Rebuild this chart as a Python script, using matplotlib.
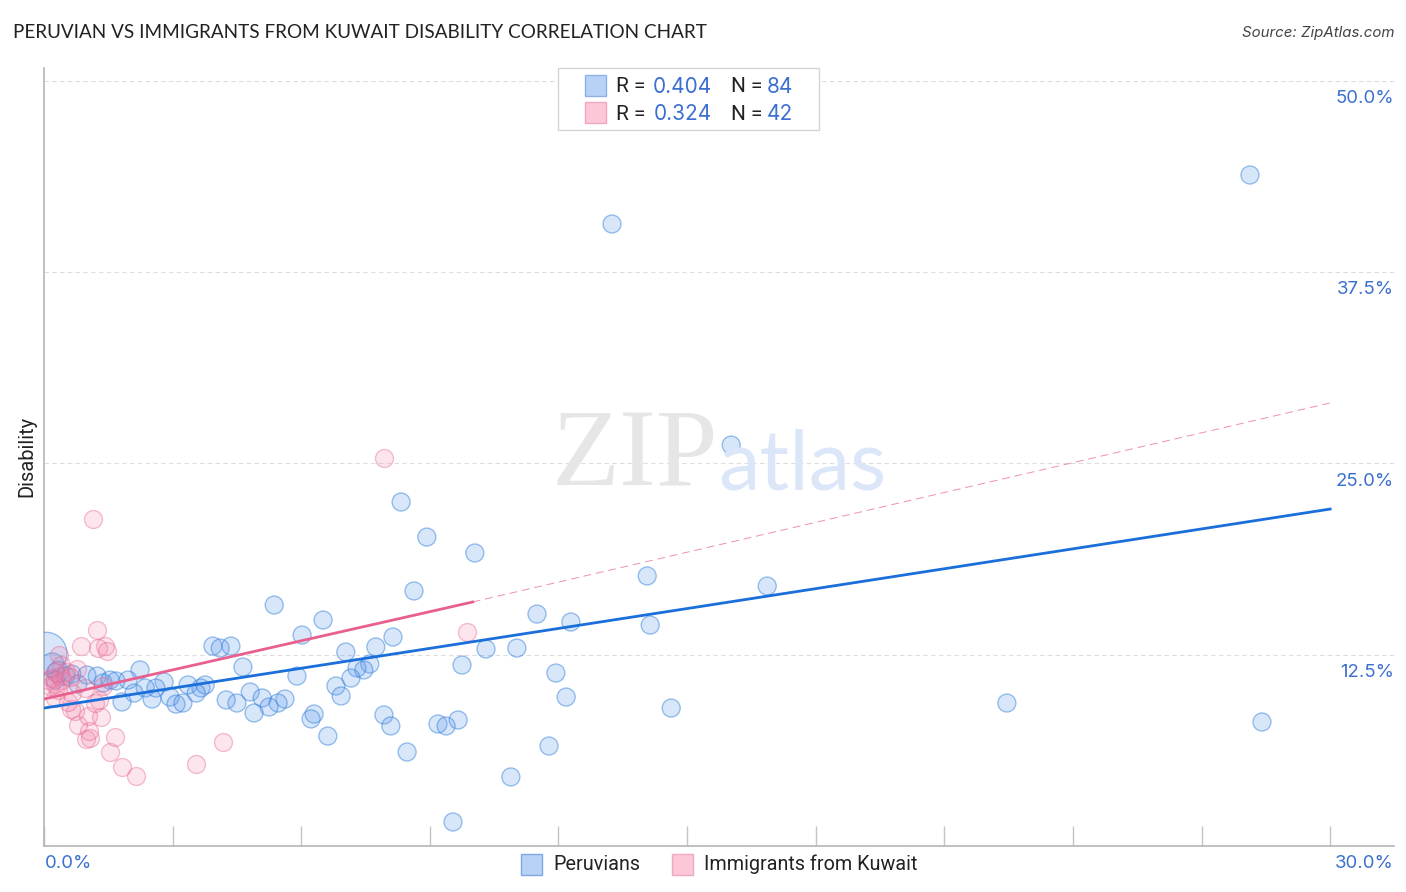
""" Plot disability correlation of Peruvians and immigrants from Kuwait. """
import matplotlib.pyplot as plt
from matplotlib.patches import Rectangle

plt.rcParams['font.family'] = ['Inter', 'Roboto', 'DejaVu Sans']

BLUE_X = [28.13, 13.25, 16.03, 8.33, 8.93, 10.05, 8.63, 14.07, 16.87, 5.37, 11.50, 6.51,
          12.29, 14.14, 6.02, 8.14, 3.94, 4.11, 4.36, 7.74, 7.04, 10.31, 11.03, 4.64,
          7.60, 7.30, 7.46, 9.75, 11.94, 5.90, 7.16, 2.24, 6.81, 6.93, 12.18, 14.63,
          22.46, 28.41, 7.93, 8.09, 9.19, 9.38, 9.66, 6.30, 6.23, 6.62, 8.47, 11.78,
          10.89, 9.54, 3.36, 3.76, 3.66, 3.55, 2.80, 2.61, 2.36, 2.10, 1.82, 2.52,
          2.94, 3.08, 3.24, 4.25, 4.50, 4.81, 5.09, 5.62, 5.46, 5.25, 4.90, 0.05,
          0.19, 0.33, 0.51, 0.65, 0.79, 1.00, 1.24, 1.38, 1.54, 1.68, 1.96, 0.26]
BLUE_Y = [43.83, 40.63, 26.19, 22.47, 20.18, 19.14, 16.66, 17.64, 16.98, 15.74, 15.15, 14.76,
          14.63, 14.43, 13.78, 13.65, 13.06, 12.93, 13.06, 13.00, 12.67, 12.87, 12.93, 11.69,
          11.89, 11.63, 11.50, 11.82, 11.30, 11.10, 10.97, 11.50, 10.45, 9.80, 9.73, 9.01,
          9.34, 8.10, 8.56, 7.84, 7.97, 7.84, 8.23, 8.62, 8.30, 7.18, 6.14, 6.53,
          4.51, 1.57, 10.52, 10.52, 10.32, 9.99, 10.71, 10.32, 10.32, 9.99, 9.41, 9.60,
          9.73, 9.27, 9.34, 9.54, 9.34, 10.06, 9.67, 9.60, 9.34, 9.08, 8.69, 12.60,
          11.82, 11.37, 11.10, 11.23, 10.58, 11.17, 11.10, 10.65, 10.84, 10.78, 10.84, 10.84]
BLUE_S = [168] * 71 + [900, 300, 230] + [168] * 10

PINK_X = [7.93, 1.14, 9.87, 1.24, 0.86, 1.42, 1.26, 1.47, 0.35, 0.77, 0.40, 0.26, 4.18, 3.55,
          2.15, 1.82, 1.54, 1.66, 0.98, 1.07, 1.05, 0.79, 1.33, 1.03, 0.72, 0.63, 1.19, 1.28,
          0.56, 0.26, 0.65, 1.38, 0.96, 0.33, 0.14, 0.42, 0.09, 0.19, 0.26, 0.37, 0.51, 0.61]
PINK_Y = [25.34, 21.36, 13.98, 14.11, 13.06, 13.06, 12.93, 12.74, 12.47, 11.56, 11.82, 11.37, 6.79, 5.36,
          4.57, 5.16, 6.14, 7.12, 6.99, 7.05, 7.51, 7.90, 8.43, 8.49, 8.82, 8.95, 9.34, 9.54,
          9.41, 9.67, 9.99, 10.45, 10.32, 10.19, 10.45, 10.84, 10.84, 10.97, 10.58, 11.10, 11.37, 11.04]

BLUE_LINE_X = [0, 30]
BLUE_LINE_Y = [9.01, 22.01]
PINK_LINE_X = [0, 10]
PINK_LINE_Y = [9.6, 15.94]
PINK_DASH_X = [10, 30]
PINK_DASH_Y = [15.94, 28.94]

X_TICKS = [0, 3, 6, 9, 12, 15, 18, 21, 24, 27, 30]
Y_TICKS = [12.5, 25.0, 37.5, 50.0]
Y_LABELS = ['12.5%', '25.0%', '37.5%', '50.0%']

WIDTH, HEIGHT = 1406, 892
BLUE = '#1a6fdb'
PINK = '#e8608f'
TEXT_BLUE = '#3b6fd0'
DARK = '#222222'


def fx(px):
    return px / WIDTH


def fy(py):
    return 1 - py / HEIGHT


def swatch(figure, x, y, size, face, edge):
    figure.add_artist(Rectangle((fx(x), fy(y + size)), size / WIDTH, size / HEIGHT, facecolor=face,
                                edgecolor=edge, linewidth=1, transform=figure.transFigure))


def plot_points(axes):
    axes.scatter(BLUE_X, BLUE_Y, s=BLUE_S, facecolor=(0.36, 0.6, 0.92, 0.24),
                 edgecolor=(0.2, 0.5, 0.85, 0.5), linewidth=0.95, zorder=3)  # Peruvians
    axes.scatter(PINK_X, PINK_Y, s=168, facecolor=(0.95, 0.5, 0.65, 0.2),
                 edgecolor=(0.9, 0.4, 0.58, 0.42), linewidth=0.95, zorder=3)  # Immigrants
    axes.plot(BLUE_LINE_X, BLUE_LINE_Y, color=BLUE, linewidth=2, zorder=4)
    axes.plot(PINK_LINE_X, PINK_LINE_Y, color=PINK, linewidth=2, zorder=4)
    axes.plot(PINK_DASH_X, PINK_DASH_Y, color=PINK, linewidth=0.7, linestyle=(0, (8, 5)), alpha=0.7, zorder=4)


def plot_frame(axes):
    axes.set_xlim(0, 31.49)
    axes.set_ylim(0, 50.82)
    axes.spines['top'].set_visible(False)
    axes.spines['right'].set_visible(False)
    axes.spines['left'].set_color('#b5b5b5')
    axes.spines['bottom'].set_color('#b5b5b5')
    axes.spines['left'].set_linewidth(1.2)
    axes.spines['bottom'].set_linewidth(1.2)
    axes.set_xticks(X_TICKS)
    axes.set_xticklabels([])
    axes.tick_params(axis='x', direction='in', length=14.4, width=1, color='#c4c4c4')
    axes.set_yticks(Y_TICKS)
    axes.set_yticklabels([])
    axes.tick_params(axis='y', length=0)
    axes.grid(axis='y', color='#dddddd', linewidth=0.8, linestyle=(0, (4, 3)))
    axes.set_axisbelow(True)


def plot_texts(figure):
    figure.text(fx(13), fy(33), 'PERUVIAN VS IMMIGRANTS FROM KUWAIT DISABILITY CORRELATION CHART',
                fontsize=13.63, family='Lato', color=DARK, va='center')
    figure.text(fx(1394), fy(33), 'Source: ZipAtlas.com', fontsize=10.8, style='italic',
                color='#444444', ha='right', va='center')
    figure.text(fx(27), fy(456), 'Disability', fontsize=14.5, family='Roboto', color=DARK,
                rotation=90, ha='center', va='center')
    figure.text(fx(45), fy(863), '0.0%', fontsize=13.4, color=TEXT_BLUE, va='center')
    figure.text(fx(1394), fy(863), '30.0%', fontsize=13.4, color=TEXT_BLUE, ha='right', va='center')
    for tick, label in zip(Y_TICKS, Y_LABELS):
        py = 846 - tick * 15.31 + 18
        figure.text(fx(1394), fy(py), label, fontsize=13.4, color=TEXT_BLUE, ha='right', va='center')
    figure.text(fx(635), fy(459), 'ZIP', fontsize=80, family='Liberation Serif', color='#e6e6e6',
                ha='center', va='center', zorder=0)
    figure.text(fx(802), fy(467), 'atlas', fontsize=60, family='Lato', color='#dbe7f9',
                ha='center', va='center', zorder=0)


def plot_legends(figure):
    figure.add_artist(Rectangle((fx(558), fy(130)), 261 / WIDTH, 62 / HEIGHT, facecolor='white',
                                edgecolor='#d5d5d5', linewidth=1, transform=figure.transFigure))
    swatch(figure, 585, 75, 21, '#b6d2f6', '#8fb2e6')
    swatch(figure, 585, 102, 21, '#fcc8d8', '#f0a8c0')
    figure.text(fx(616), fy(87), 'R =', fontsize=15, family='Roboto', color=DARK, va='center')
    figure.text(fx(616), fy(114), 'R =', fontsize=15, family='Roboto', color=DARK, va='center')
    figure.text(fx(712), fy(87), '0.404', fontsize=15, color=TEXT_BLUE, ha='right', va='center')
    figure.text(fx(712), fy(114), '0.324', fontsize=15, color=TEXT_BLUE, ha='right', va='center')
    figure.text(fx(731), fy(87), 'N =', fontsize=15, family='Roboto', color=DARK, va='center')
    figure.text(fx(731), fy(114), 'N =', fontsize=15, family='Roboto', color=DARK, va='center')
    figure.text(fx(793), fy(87), '84', fontsize=15, color=TEXT_BLUE, ha='right', va='center')
    figure.text(fx(793), fy(114), '42', fontsize=15, color=TEXT_BLUE, ha='right', va='center')
    swatch(figure, 521, 854, 21, '#b6d2f6', '#7fa8e0')
    figure.text(fx(553), fy(864), 'Peruvians', fontsize=14.25, family='Roboto', color=DARK, va='center')
    swatch(figure, 672, 854, 21, '#fcc8d8', '#f0a8c0')
    figure.text(fx(704), fy(864), 'Immigrants from Kuwait', fontsize=14.25, family='Roboto', color=DARK, va='center')


def plot_all():
    figure, axes = plt.subplots(figsize=(WIDTH / 100, HEIGHT / 100), dpi=100)  # Create a figure and an axes.
    figure.subplots_adjust(left=fx(44), right=fx(1394), bottom=fy(846), top=fy(68))
    axes.patch.set_alpha(0)
    plot_frame(axes)
    plot_points(axes)
    plot_texts(figure)
    plot_legends(figure)
    figure.savefig('out.png', dpi=100)


if __name__ == "__main__":
    plot_all()
